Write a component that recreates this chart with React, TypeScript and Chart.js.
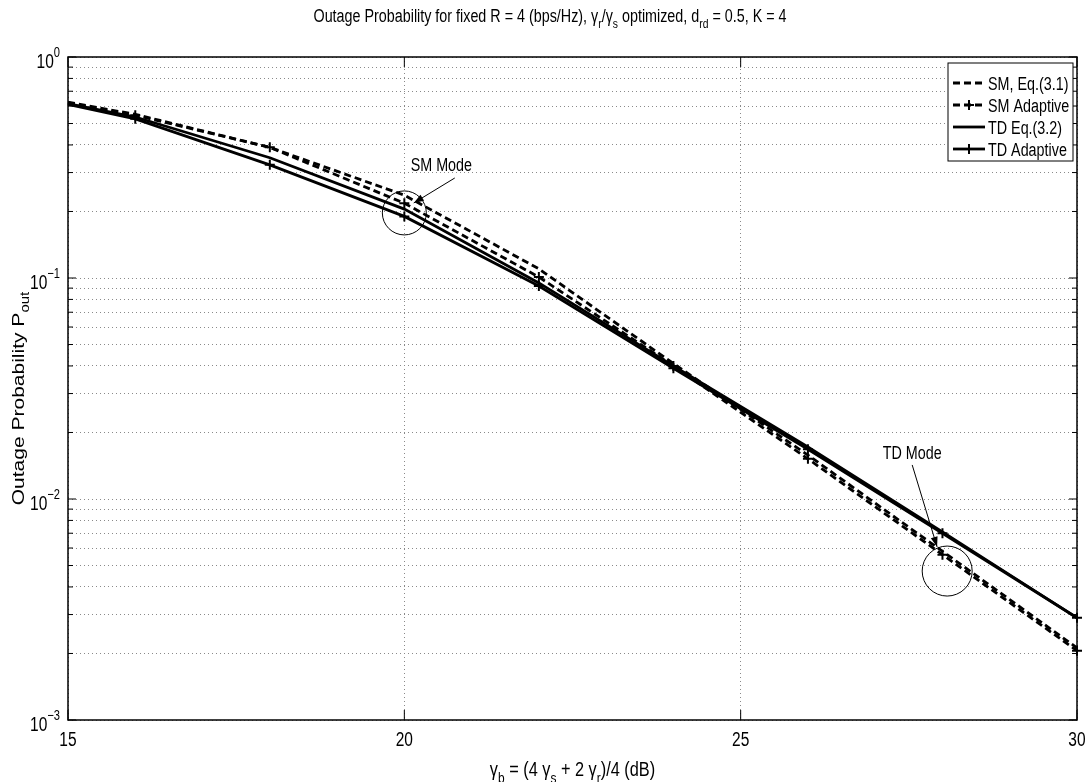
import React, { useEffect, useRef } from 'react';
import { Chart, registerables } from 'chart.js';

Chart.register(...registerables);

// ---------- data ----------
const xValues = [15, 16, 18, 20, 22, 24, 26, 28, 30];
const smEq = [0.625, 0.55, 0.39, 0.237, 0.11, 0.041, 0.0158, 0.0058, 0.00212];
const smAdaptive = [0.62, 0.545, 0.39, 0.218, 0.101, 0.04, 0.0152, 0.0056, 0.00206];
const tdEq = [0.615, 0.535, 0.35, 0.205, 0.095, 0.04, 0.0172, 0.0071, 0.0029];
const tdAdaptive = [0.61, 0.525, 0.325, 0.19, 0.092, 0.039, 0.0168, 0.007, 0.0029];

const xTicks = [15, 20, 25, 30];
const yDecades = [-3, -2, -1, 0];
const legendLabels = ['SM, Eq.(3.1)', 'SM Adaptive', 'TD Eq.(3.2)', 'TD Adaptive'];

// annotations (data coordinates)
const smModeText = { x: 20.55, y: 0.325, label: 'SM Mode' };
const smArrow = { x0: 20.75, y0: 0.2835, x1: 20.14, y1: 0.2185 };
const smCircle = { x: 20, y: 0.197, r: 22 };
const tdModeText = { x: 27.55, y: 0.0163, label: 'TD Mode' };
const tdArrow = { x0: 27.55, y0: 0.01426, x1: 27.92, y1: 0.00607 };
const tdCircle = { x: 28.07, y: 0.00472, r: 25 };

// ---------- text helpers ----------
type Seg = { t: string; s?: 'sub' | 'sup' };
const FONT = "'Liberation Sans', Arial, Helvetica, sans-serif";
const BASE = 18;
let SX = 0.75;

const titleSegs: Seg[] = [
  { t: 'Outage Probability for fixed R = 4 (bps/Hz), \u03b3' },
  { t: 'r', s: 'sub' },
  { t: '/\u03b3' },
  { t: 's', s: 'sub' },
  { t: ' optimized, d' },
  { t: 'rd', s: 'sub' },
  { t: ' = 0.5, K = 4' },
];
const xLabelSegs: Seg[] = [
  { t: '\u03b3' },
  { t: 'b', s: 'sub' },
  { t: ' = (4 \u03b3' },
  { t: 's', s: 'sub' },
  { t: ' + 2 \u03b3' },
  { t: 'r', s: 'sub' },
  { t: ')/4 (dB)' },
];
const yLabelSegs: Seg[] = [{ t: 'Outage Probability P' }, { t: 'out', s: 'sub' }];

function segFont(seg: Seg, size: number) {
  return `${seg.s ? Math.round(size * 0.72) : size}px ${FONT}`;
}
function measureRaw(ctx: CanvasRenderingContext2D, segs: Seg[], size: number) {
  let w = 0;
  for (const s of segs) {
    ctx.font = segFont(s, size);
    w += ctx.measureText(s.t).width;
  }
  return w;
}
function drawRich(
  ctx: CanvasRenderingContext2D,
  segs: Seg[],
  x: number,
  y: number,
  size: number,
  align: 'left' | 'center' | 'right',
  opts: { sx?: number; sy?: number; supRaise?: number } = {}
) {
  const sxk = opts.sx ?? SX;
  const syk = opts.sy ?? 1;
  const supRaise = opts.supRaise ?? size * 0.45;
  const w = measureRaw(ctx, segs, size) * sxk;
  const start = align === 'center' ? x - w / 2 : align === 'right' ? x - w : x;
  ctx.save();
  ctx.translate(start, y);
  ctx.scale(sxk, syk);
  ctx.textAlign = 'left';
  ctx.textBaseline = 'alphabetic';
  ctx.fillStyle = '#000';
  let cx = 0;
  for (const s of segs) {
    ctx.font = segFont(s, size);
    const dy = s.s === 'sub' ? size * 0.32 : s.s === 'sup' ? -supRaise : 0;
    ctx.fillText(s.t, cx, dy);
    cx += ctx.measureText(s.t).width;
  }
  ctx.restore();
}

function drawArrow(ctx: CanvasRenderingContext2D, x0: number, y0: number, x1: number, y1: number) {
  ctx.beginPath();
  ctx.moveTo(x0, y0);
  ctx.lineTo(x1, y1);
  ctx.stroke();
  const ang = Math.atan2(y1 - y0, x1 - x0);
  const L = 10;
  const W = 3.5;
  const bx = x1 - L * Math.cos(ang);
  const by = y1 - L * Math.sin(ang);
  ctx.beginPath();
  ctx.moveTo(x1, y1);
  ctx.lineTo(bx + W * Math.sin(ang), by - W * Math.cos(ang));
  ctx.lineTo(bx - W * Math.sin(ang), by + W * Math.cos(ang));
  ctx.closePath();
  ctx.fill();
}

const isDecade = (v: number) => Math.abs(Math.log10(v) - Math.round(Math.log10(v))) < 1e-9;

const decorPlugin = {
  id: 'decor',
  afterDraw(chart: any) {
    const ctx: CanvasRenderingContext2D = chart.ctx;
    const a = chart.chartArea;
    const xs = chart.scales.x;
    const ys = chart.scales.y;
    ctx.save();
    // calibrate horizontal condensation from title width
    SX = 473 / measureRaw(ctx, titleSegs, BASE);

    // annotations
    ctx.strokeStyle = '#000';
    ctx.fillStyle = '#000';
    ctx.lineWidth = 1;
    ctx.setLineDash([]);
    for (const c of [smCircle, tdCircle]) {
      ctx.beginPath();
      ctx.arc(xs.getPixelForValue(c.x), ys.getPixelForValue(c.y), c.r, 0, Math.PI * 2);
      ctx.stroke();
    }
    for (const ar of [smArrow, tdArrow]) {
      drawArrow(
        ctx,
        xs.getPixelForValue(ar.x0),
        ys.getPixelForValue(ar.y0),
        xs.getPixelForValue(ar.x1),
        ys.getPixelForValue(ar.y1)
      );
    }
    for (const t of [smModeText, tdModeText]) {
      drawRich(ctx, [{ t: t.label }], xs.getPixelForValue(t.x), ys.getPixelForValue(t.y) + 6.5, 18, 'center');
    }

    // axes box
    ctx.strokeStyle = '#000';
    ctx.lineWidth = 1.5;
    ctx.strokeRect(a.left, a.top, a.right - a.left, a.bottom - a.top);

    // inward ticks
    ctx.lineWidth = 1;
    ctx.beginPath();
    for (const v of xTicks) {
      const px = xs.getPixelForValue(v);
      ctx.moveTo(px, a.bottom);
      ctx.lineTo(px, a.bottom - 10);
      ctx.moveTo(px, a.top);
      ctx.lineTo(px, a.top + 10);
    }
    for (const t of ys.ticks) {
      const py = ys.getPixelForValue(t.value);
      const len = isDecade(t.value) ? 8 : 5;
      ctx.moveTo(a.left, py);
      ctx.lineTo(a.left + len, py);
      ctx.moveTo(a.right, py);
      ctx.lineTo(a.right - len, py);
    }
    ctx.stroke();

    // x tick labels
    for (const v of xTicks) {
      drawRich(ctx, [{ t: String(v) }], xs.getPixelForValue(v), a.bottom + 26, 19.5, 'center');
    }
    // y tick labels
    for (const e of yDecades) {
      const py = ys.getPixelForValue(Math.pow(10, e));
      const exp = e < 0 ? '\u2212' + String(-e) : String(e);
      drawRich(ctx, [{ t: '10' }, { t: exp, s: 'sup' }], a.left - 8, py + 11, 19.5, 'right', { supRaise: 11 });
    }

    // title
    drawRich(ctx, titleSegs, 550, 22, BASE, 'center');
    // x label
    drawRich(ctx, xLabelSegs, (a.left + a.right) / 2, 776, 20.5, 'center');
    // y label (not condensed along its length, thinner across)
    ctx.save();
    ctx.translate(24, (a.top + a.bottom) / 2 + 10);
    ctx.rotate(-Math.PI / 2);
    drawRich(ctx, yLabelSegs, 0, 0, 21, 'center', { sx: 1, sy: SX });
    ctx.restore();

    // legend
    const lx0 = 948;
    const lx1 = 1073;
    const ly0 = 63;
    const ly1 = 161;
    ctx.fillStyle = '#fff';
    ctx.fillRect(lx0, ly0, lx1 - lx0, ly1 - ly0);
    ctx.strokeStyle = '#000';
    ctx.lineWidth = 1;
    ctx.strokeRect(lx0, ly0, lx1 - lx0, ly1 - ly0);
    const ds = chart.data.datasets;
    legendLabels.forEach((lab, i) => {
      const cy = 83 + i * 22;
      const d = ds[i];
      ctx.save();
      ctx.strokeStyle = '#000';
      ctx.lineWidth = 2.8;
      ctx.setLineDash(d.borderDash || []);
      ctx.beginPath();
      ctx.moveTo(953, cy);
      ctx.lineTo(985, cy);
      ctx.stroke();
      ctx.setLineDash([]);
      if (d.pointStyle === 'cross') {
        ctx.lineWidth = 2;
        ctx.beginPath();
        ctx.moveTo(969, cy - 5);
        ctx.lineTo(969, cy + 5);
        ctx.moveTo(964, cy);
        ctx.lineTo(974, cy);
        ctx.stroke();
      }
      ctx.restore();
      drawRich(ctx, [{ t: lab }], 988, cy + 6.5, BASE, 'left');
    });

    ctx.restore();
  },
};

function toPoints(ys: number[]) {
  return xValues.map((x, i) => ({ x, y: ys[i] }));
}

export default function App() {
  const ref = useRef<HTMLCanvasElement | null>(null);
  useEffect(() => {
    if (!ref.current) return;
    const markerRadius = (c: any) => (c.raw && c.raw.x === 15 ? 0 : 5);
    const chart = new Chart(ref.current, {
      type: 'line',
      data: {
        datasets: [
          {
            label: legendLabels[0],
            data: toPoints(smEq),
            borderColor: '#000',
            borderWidth: 2.8,
            borderDash: [7, 4],
            pointRadius: 0,
            clip: 8,
          },
          {
            label: legendLabels[1],
            data: toPoints(smAdaptive),
            borderColor: '#000',
            backgroundColor: '#000',
            borderWidth: 2.8,
            borderDash: [7, 4],
            pointStyle: 'cross',
            pointRadius: markerRadius,
            pointBorderWidth: 2,
            pointBorderColor: '#000',
            clip: 8,
          },
          {
            label: legendLabels[2],
            data: toPoints(tdEq),
            borderColor: '#000',
            borderWidth: 2.8,
            pointRadius: 0,
            clip: 8,
          },
          {
            label: legendLabels[3],
            data: toPoints(tdAdaptive),
            borderColor: '#000',
            backgroundColor: '#000',
            borderWidth: 2.8,
            pointStyle: 'cross',
            pointRadius: markerRadius,
            pointBorderWidth: 2,
            pointBorderColor: '#000',
            clip: 8,
          },
        ] as any,
      },
      options: {
        animation: false,
        responsive: true,
        maintainAspectRatio: false,
        layout: { padding: { left: 68, top: 57, right: 13, bottom: 62 } },
        elements: { line: { tension: 0 } },
        plugins: {
          legend: { display: false },
          title: { display: false },
          tooltip: { enabled: false },
        },
        events: [],
        scales: {
          x: {
            type: 'linear',
            min: 15,
            max: 30,
            afterBuildTicks: (s: any) => {
              s.ticks = xTicks.map((v) => ({ value: v }));
            },
            ticks: { display: false },
            grid: { color: '#8a8a8a', lineWidth: 1, drawTicks: false },
            border: { display: false, dash: [1, 3] },
          },
          y: {
            type: 'logarithmic',
            min: 0.001,
            max: 1,
            afterBuildTicks: (s: any) => {
              const t: { value: number }[] = [];
              for (let e = -3; e < 0; e++) {
                for (let m = 1; m <= 9; m++) t.push({ value: m * Math.pow(10, e) });
              }
              t.push({ value: 1 });
              s.ticks = t;
            },
            ticks: { display: false },
            grid: { color: '#8a8a8a', lineWidth: 1, drawTicks: false },
            border: { display: false, dash: [1, 3] },
          },
        },
      } as any,
      plugins: [decorPlugin],
    });
    return () => chart.destroy();
  }, []);

  return (
    <div style={{ position: 'absolute', left: 0, top: 0, width: 1090, height: 782, background: '#fff' }}>
      <canvas ref={ref} />
    </div>
  );
}
